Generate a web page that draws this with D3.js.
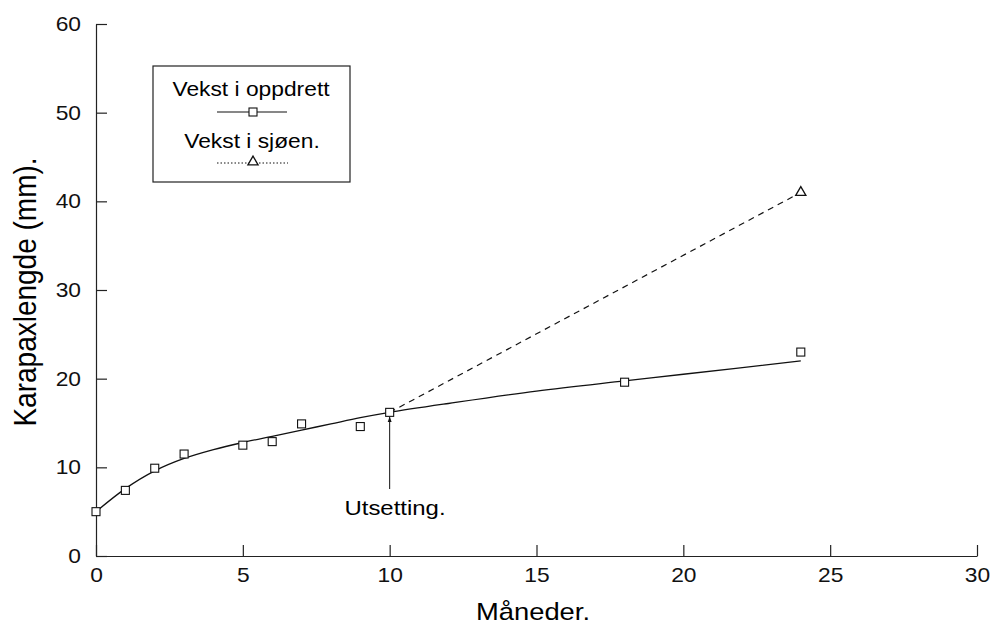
<!DOCTYPE html>
<html>
<head>
<meta charset="utf-8">
<script src="https://cdn.jsdelivr.net/npm/d3@7"></script>
<style>
  body { margin: 0; background: #fff; }
  svg { display: block; font-family: "Liberation Sans", Arial, Helvetica, sans-serif; }
  .axis path, .axis line { stroke: #222; stroke-width: 1.2; }
  .axis text { font-size: 20px; fill: #111; }
</style>
</head>
<body>
<script>
// observed points (months, carapace length in mm)
const months = [0, 1, 2, 3, 5, 6, 7, 9, 10, 18, 24];
const oppdrett = [5.0, 7.4, 9.9, 11.5, 12.5, 12.9, 14.9, 14.6, 16.2, 19.6, 23.0];

// fitted curve
const fitMonths = [0, 1, 2, 3, 4, 5, 6, 7, 8, 9, 10, 12, 15, 18, 20, 24];
const fitValues = [5.0, 7.6, 9.6, 11.0, 12.0, 12.8, 13.5, 14.2, 14.9, 15.6, 16.2, 17.2, 18.6, 19.75, 20.5, 22.0];

// growth in the sea after release
const sjoenMonths = [10, 24];
const sjoenValues = [16.2, 41.0];

const xTicks = [0, 5, 10, 15, 20, 25, 30];
const yTicks = [0, 10, 20, 30, 40, 50, 60];

const width = 993, height = 627;
const stretch = 1.14; // the scanned lettering is a bit wide

const svg = d3.select("body").append("svg")
    .attr("width", width)
    .attr("height", height);

const x = d3.scaleLinear().domain([0, 30]).range([96, 977]);
const y = d3.scaleLinear().domain([0, 60]).range([556, 24]);

// axes, ticks pointing inward
svg.append("g")
    .attr("class", "axis")
    .attr("transform", "translate(0," + y(0) + ")")
    .call(d3.axisBottom(x).tickValues(xTicks).tickSizeInner(-11).tickSizeOuter(0).tickPadding(12))
    .selectAll("text")
    .attr("transform", "scale(" + stretch + ",1)");

svg.append("g")
    .attr("class", "axis")
    .attr("transform", "translate(" + x(0) + ",0)")
    .call(d3.axisLeft(y).tickValues(yTicks).tickSizeInner(-11).tickSizeOuter(0).tickPadding(15))
    .selectAll("text")
    .attr("x", -15 / stretch)
    .attr("transform", "scale(" + stretch + ",1)");

// wide text helper
function label(cx, cy, size, str) {
    svg.append("text")
        .attr("transform", "translate(" + cx + "," + cy + ") scale(" + stretch + ",1)")
        .attr("text-anchor", "middle")
        .style("font-size", size + "px")
        .text(str);
}

// axis titles
label(533, 620, 24, "Måneder.");

svg.append("text")
    .attr("transform", "translate(36,292) rotate(-90) scale(1," + stretch + ")")
    .attr("text-anchor", "middle")
    .style("font-size", "28px")
    .text("Karapaxlengde (mm).");

// fitted curve
const fit = fitMonths.map((m, i) => [m, fitValues[i]]);
svg.append("path")
    .datum(fit)
    .attr("fill", "none")
    .attr("stroke", "#111")
    .attr("stroke-width", 1.3)
    .attr("d", d3.line().x(d => x(d[0])).y(d => y(d[1])).curve(d3.curveCatmullRom));

// sea growth line
const sea = sjoenMonths.map((m, i) => [m, sjoenValues[i]]);
svg.append("path")
    .datum(sea)
    .attr("fill", "none")
    .attr("stroke", "#111")
    .attr("stroke-width", 1.2)
    .attr("stroke-dasharray", "6,5")
    .attr("d", d3.line().x(d => x(d[0])).y(d => y(d[1])));

// square markers
const sq = 8;
svg.selectAll(".pt")
    .data(months.map((m, i) => [m, oppdrett[i]]))
    .enter().append("rect")
    .attr("class", "pt")
    .attr("x", d => x(d[0]) - sq / 2)
    .attr("y", d => y(d[1]) - sq / 2)
    .attr("width", sq)
    .attr("height", sq)
    .attr("fill", "#fff")
    .attr("stroke", "#111")
    .attr("stroke-width", 1.1);

// triangle marker at the end of the sea line
const tri = d3.symbol().type(d3.symbolTriangle).size(45);
svg.append("path")
    .attr("d", tri)
    .attr("transform", "translate(" + x(24) + "," + y(41.0) + ")")
    .attr("fill", "#fff")
    .attr("stroke", "#111")
    .attr("stroke-width", 1.3);

// release arrow
svg.append("defs").append("marker")
    .attr("id", "head")
    .attr("viewBox", "0 0 10 10")
    .attr("refX", 9).attr("refY", 5)
    .attr("markerWidth", 6).attr("markerHeight", 9)
    .attr("orient", "auto")
    .append("path")
    .attr("d", "M0,1.5 L10,5 L0,8.5 Z")
    .attr("fill", "#111");

svg.append("line")
    .attr("x1", x(10)).attr("x2", x(10))
    .attr("y1", 489).attr("y2", 417)
    .attr("stroke", "#111")
    .attr("stroke-width", 1)
    .attr("marker-end", "url(#head)");

label(395, 515, 21, "Utsetting.");

// legend
const legend = svg.append("g");
legend.append("rect")
    .attr("x", 153).attr("y", 66)
    .attr("width", 197).attr("height", 116)
    .attr("fill", "#fff")
    .attr("stroke", "#222")
    .attr("stroke-width", 1.2);

label(251, 96, 20, "Vekst i oppdrett");

legend.append("line")
    .attr("x1", 217).attr("x2", 287)
    .attr("y1", 112).attr("y2", 112)
    .attr("stroke", "#111").attr("stroke-width", 1.2);

legend.append("rect")
    .attr("x", 253 - sq / 2).attr("y", 112 - sq / 2)
    .attr("width", sq).attr("height", sq)
    .attr("fill", "#fff").attr("stroke", "#111").attr("stroke-width", 1.1);

label(252, 148, 20, "Vekst i sjøen.");

legend.append("line")
    .attr("x1", 217).attr("x2", 288)
    .attr("y1", 163).attr("y2", 163)
    .attr("stroke", "#111").attr("stroke-width", 1)
    .attr("stroke-dasharray", "1.5,2");

legend.append("path")
    .attr("d", tri)
    .attr("transform", "translate(253,162)")
    .attr("fill", "#fff").attr("stroke", "#111").attr("stroke-width", 1.3);
</script>
</body>
</html>
